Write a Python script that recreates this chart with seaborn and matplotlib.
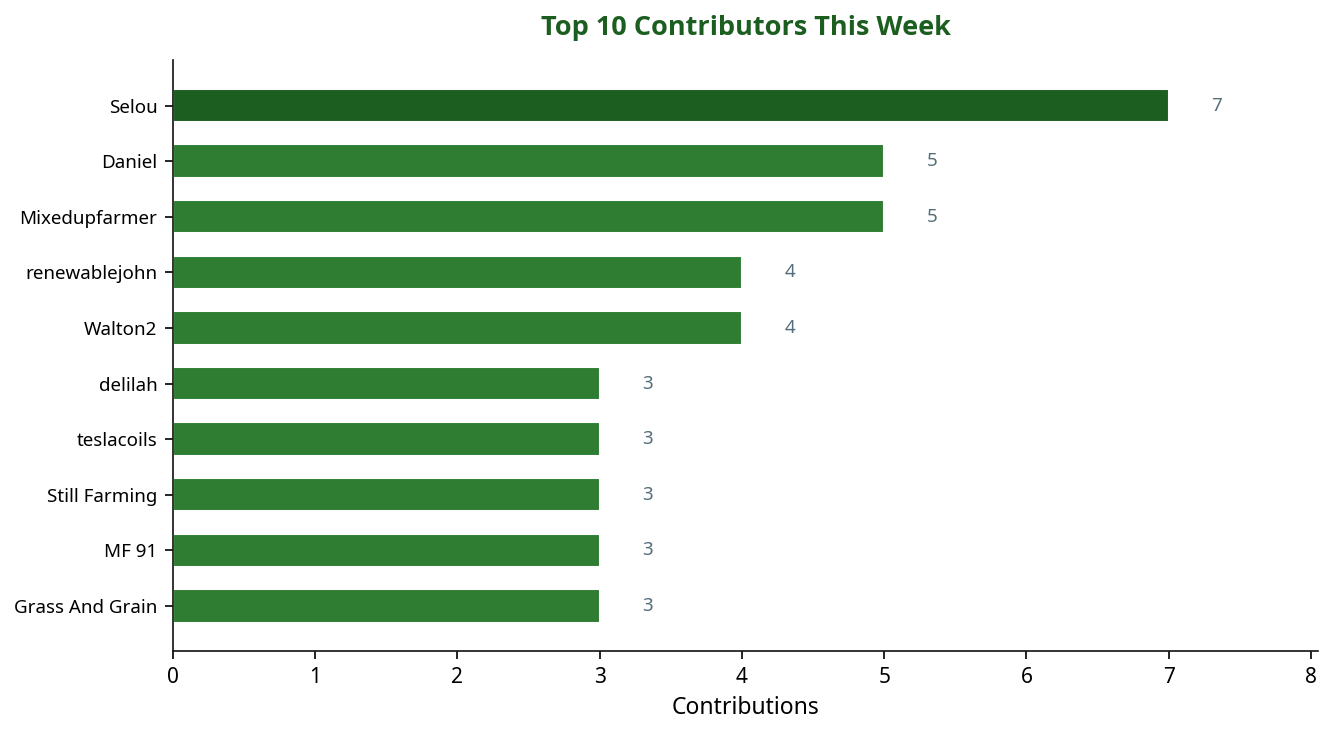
import matplotlib
matplotlib.use('Agg')
import matplotlib.pyplot as plt
import pandas as pd
import seaborn as sns

contributors = ['Selou', 'Daniel', 'Mixedupfarmer', 'renewablejohn', 'Walton2',
                'delilah', 'teslacoils', 'Still Farming', 'MF 91', 'Grass And Grain']
contributions = [7, 5, 5, 4, 4, 3, 3, 3, 3, 3]

df = pd.DataFrame({'name': contributors, 'count': contributions})

sns.set_style('white')
plt.rcParams['font.family'] = ['Noto Sans', 'DejaVu Sans']
plt.rcParams['text.color'] = 'black'
plt.rcParams['xtick.color'] = 'black'
plt.rcParams['ytick.color'] = 'black'
plt.rcParams['axes.labelcolor'] = 'black'

colors = ['#1b5e20'] + ['#2e7d32'] * (len(df) - 1)

f, ax = plt.subplots(figsize=(8.9, 4.9), dpi=150)
sns.barplot(data=df, x='count', y='name', hue='name', palette=colors,
            legend=False, width=0.6, ax=ax, saturation=1)

for i, v in enumerate(df['count']):
    ax.text(v + 0.3, i, str(v), va='center', ha='left', fontsize=9, color='#546e7a')

ax.set_xlim(0, max(contributions) * 1.15)
ax.set_ylim(len(df) - 1 + 0.81, -0.82)
ax.set_xlabel('Contributions', fontsize=11, labelpad=4)
ax.set_ylabel('')
ax.set_title('Top 10 Contributors This Week', fontsize=13, fontweight='bold',
             color='#1b5e20', pad=12, family=['Open Sans', 'DejaVu Sans'])
ax.tick_params(axis='y', labelsize=9, left=True, length=4)
ax.tick_params(axis='x', labelsize=10, bottom=True, length=4)
for s in ['left', 'bottom']:
    ax.spines[s].set_color('#111111')
sns.despine()
f.subplots_adjust(left=0.1296, right=0.9873, top=0.9184, bottom=0.1143)
f.savefig('out.png', dpi=150)
